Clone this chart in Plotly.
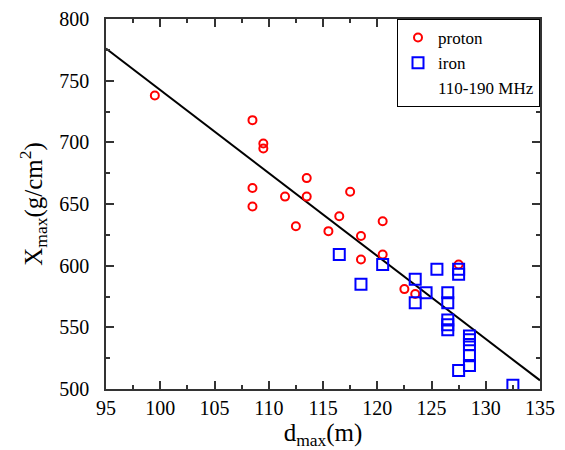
import plotly.graph_objects as go

# proton (red circles)
proton_d = [99.5, 108.5, 109.5, 109.5, 108.5, 108.5, 111.5, 112.5, 113.5, 113.5, 117.5,
            116.5, 115.5, 118.5, 120.5, 118.5, 120.5, 127.5, 122.5, 123.5]
proton_x = [738, 718, 699, 695, 663, 648, 656, 632, 671, 656, 660,
            640, 628, 624, 636, 605, 609, 601, 581, 577]

# iron (blue squares)
iron_d = [116.5, 120.5, 118.5, 123.5, 123.5, 124.5, 125.5, 127.5, 127.5, 126.5, 126.5,
          126.5, 126.5, 126.5, 128.5, 128.5, 128.5, 128.5, 128.5, 127.5, 132.5]
iron_x = [609, 601, 585, 589, 570, 578, 597, 597, 593, 578, 570,
          556, 552, 548, 543, 540, 536, 527, 519, 515, 503]

# linear fit
fit_d = [95, 135]
fit_x = [776, 507]

FONT = "Liberation Serif"

fig = go.Figure()
fig.add_trace(go.Scatter(x=fit_d, y=fit_x, mode="lines", line=dict(color="black", width=2),
                         showlegend=False, hoverinfo="skip"))
fig.add_trace(go.Scatter(x=proton_d, y=proton_x, mode="markers", name="proton",
                         marker=dict(symbol="circle-open", size=8, color="red",
                                     line=dict(width=2, color="red"))))
fig.add_trace(go.Scatter(x=iron_d, y=iron_x, mode="markers", name="iron",
                         marker=dict(symbol="square-open", size=11, color="blue",
                                     line=dict(width=2, color="blue"))))
fig.add_trace(go.Scatter(x=[None], y=[None], mode="markers", name="110-190 MHz",
                         marker=dict(size=1, color="rgba(0,0,0,0)")))

axis_common = dict(showgrid=False, zeroline=False, showline=True, linecolor="#333",
                   linewidth=1.5, mirror="allticks", ticks="inside", ticklen=8,
                   tickwidth=1.5, tickcolor="#333", automargin=False,
                   tickfont=dict(family=FONT, size=20, color="black"))

fig.update_xaxes(range=[95, 135], dtick=5, tick0=95,
                 minor=dict(dtick=2.5, ticks="inside", ticklen=4, tickwidth=1.5, tickcolor="#333"),
                 title=dict(text="d<sub>max</sub>(m)", font=dict(family=FONT, size=25, color="black"),
                            standoff=6),
                 **axis_common)
fig.update_yaxes(range=[500, 800], dtick=50,
                 minor=dict(dtick=25, ticks="inside", ticklen=4, tickwidth=1.5, tickcolor="#333"),
                 title=dict(text="X<sub>max</sub>(g/cm<sup>2</sup>)",
                            font=dict(family=FONT, size=25, color="black"), standoff=10),
                 ticklabelstandoff=11,
                 **axis_common)

fig.update_layout(
    width=557, height=442,
    margin=dict(l=98, r=25, t=11, b=61),
    plot_bgcolor="white", paper_bgcolor="white",
    font=dict(family=FONT, color="black"),
    legend=dict(x=1, y=1, xanchor="right", yanchor="top", bordercolor="black",
                borderwidth=1, bgcolor="white", font=dict(family=FONT, size=17, color="black"),
                itemwidth=30, tracegroupgap=0),
)

fig.write_html("out.html")
